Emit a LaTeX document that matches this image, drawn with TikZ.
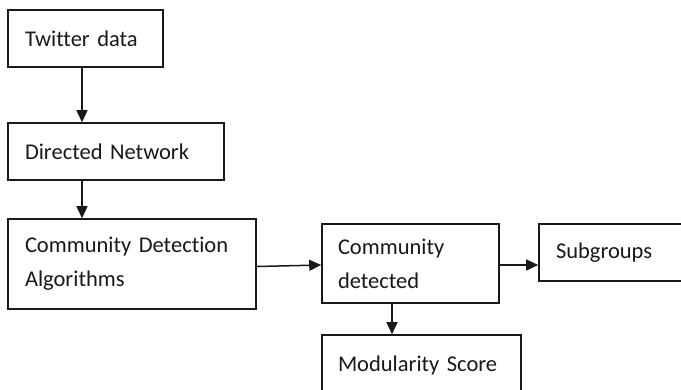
\documentclass[tikz,border=0pt]{standalone}
\usepackage{fontspec}
\setmainfont{Carlito}[Ligatures={NoCommon,NoRare,NoDiscretionary}]
\usetikzlibrary{arrows.meta}
\tikzset{
  box/.style={draw=black!90, line width=1.6pt, rectangle, align=left,
    inner xsep=17pt, inner ysep=0pt, font=\fontsize{22.5}{34}\selectfont,
    text=black!90},
  arr/.style={draw=black!90, line width=1.5pt, -{Triangle[length=12pt,width=11pt]}}
}
\begin{document}
\begin{tikzpicture}[x=1pt,y=-1pt]
  \useasboundingbox (0,0) rectangle (681,389);
  \clip (0,0) rectangle (681,389);
  \fill[white] (0,0) rectangle (681,389);

  % process boxes
  \node[box, minimum width=155pt, minimum height=57pt, text width=121pt] (tw) at (85.5,38.5) {Twitter data};
  \node[box, minimum width=216pt, minimum height=57pt, text width=182pt] (dn) at (116,151.5) {Directed Network};
  \node[box, minimum width=248pt, minimum height=90pt, text width=214pt] (cda) at (132,264) {Community Detection\\Algorithms};
  \node[box, minimum width=177pt, minimum height=79pt, text width=145pt, inner xsep=16pt] (cd) at (410.5,263.5) {Community\\detected};
  \node[box, minimum width=161pt, minimum height=57pt, text width=127pt] (sg) at (619.5,252.5) {Subgroups};
  \node[box, minimum width=199pt, minimum height=100pt, text width=167pt, inner xsep=16pt, text depth=43pt] (ms) at (421.5,385) {Modularity Score};

  % connectors
  \coordinate (sp) at (82,0);
  \coordinate (sq) at (392,0);
  \draw[arr] (sp |- tw.south) -- (sp |- dn.north);
  \draw[arr] (sp |- dn.south) -- (sp |- cda.north);
  \draw[arr] ([yshift=-2.5]cda.east) -- ([yshift=-1.5]cd.west);
  \draw[arr] ([yshift=-1.5]cd.east) -- ([yshift=-1.5]cd.east -| sg.west);
  \draw[arr] (sq |- cd.south) -- (sq |- ms.north);
\end{tikzpicture}
\end{document}
